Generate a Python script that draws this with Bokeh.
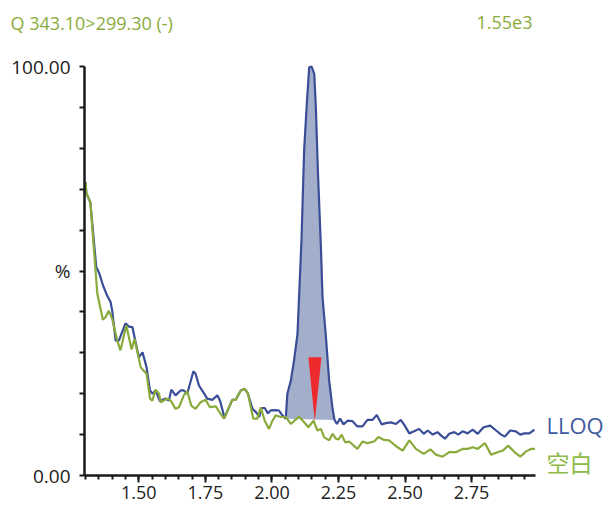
from bokeh.plotting import figure
from bokeh.models import FixedTicker, Label, Range1d
from bokeh.embed import file_html
from bokeh.resources import INLINE

# ---- data ----
lloq_t = [1.300, 1.303, 1.318, 1.340, 1.344, 1.352, 1.366, 1.381, 1.394, 1.400, 1.413, 1.425,
          1.450, 1.463, 1.476, 1.484, 1.500, 1.514, 1.529, 1.542, 1.551, 1.563, 1.579, 1.601,
          1.613, 1.622, 1.638, 1.657, 1.669, 1.682, 1.705, 1.713, 1.726, 1.742, 1.757, 1.776,
          1.795, 1.805, 1.818, 1.820, 1.839, 1.851, 1.864, 1.883, 1.898, 1.910, 1.927, 1.940,
          1.952, 1.962, 1.973, 1.985, 1.995, 2.014, 2.026, 2.039, 2.052,
          2.058, 2.071, 2.083, 2.096, 2.111, 2.121, 2.131, 2.140, 2.149, 2.159, 2.165, 2.173,
          2.184, 2.190, 2.202, 2.215, 2.227, 2.235,
          2.244, 2.256, 2.269, 2.284, 2.302, 2.321, 2.340, 2.359, 2.378, 2.394, 2.412, 2.428,
          2.447, 2.466, 2.484, 2.499, 2.516, 2.534, 2.553, 2.570, 2.585, 2.604, 2.622, 2.635,
          2.650, 2.666, 2.685, 2.700, 2.716, 2.735, 2.754, 2.773, 2.795, 2.820, 2.842, 2.861,
          2.875, 2.895, 2.916, 2.933, 2.948, 2.967, 2.986]
lloq_v = [71.7, 69.0, 66.8, 51.0, 50.5, 49.3, 46.4, 44.0, 42.4, 40.3, 33.0, 33.0,
          37.2, 36.4, 36.3, 33.8, 28.9, 30.1, 26.5, 20.8, 20.0, 20.8, 18.2, 18.8,
          18.3, 21.0, 19.6, 20.8, 20.8, 20.0, 25.5, 24.9, 22.0, 20.4, 18.8, 18.5,
          19.6, 18.3, 15.1, 13.9, 16.7, 18.5, 18.5, 20.8, 21.2, 20.0, 16.3, 15.5,
          14.3, 16.5, 16.5, 15.2, 15.9, 16.0, 15.9, 14.7, 13.9,
          20.0, 23.2, 28.1, 34.6, 57.5, 79.5, 90.9, 99.8, 100.0, 98.2, 90.0, 73.8,
          55.8, 43.6, 34.6, 23.2, 16.7, 13.6,
          12.6, 13.9, 12.5, 13.4, 13.3, 12.0, 12.0, 13.6, 13.6, 14.8, 12.5, 12.8,
          13.0, 12.6, 13.6, 12.2, 10.3, 10.8, 11.4, 10.2, 11.0, 10.0, 10.6, 9.8,
          9.0, 10.2, 10.6, 10.0, 10.8, 10.3, 11.2, 10.2, 11.8, 12.2, 11.0, 10.0,
          9.5, 11.0, 10.8, 10.0, 10.3, 10.3, 11.2]

blank_t = [1.300, 1.303, 1.318, 1.344, 1.365, 1.375, 1.387, 1.400, 1.419, 1.431, 1.453, 1.473,
           1.484, 1.507, 1.517, 1.529, 1.542, 1.551, 1.563, 1.576, 1.582, 1.607, 1.620, 1.638,
           1.651, 1.669, 1.682, 1.697, 1.713, 1.732, 1.751, 1.767, 1.789, 1.807, 1.820, 1.839,
           1.851, 1.864, 1.883, 1.898, 1.910, 1.930, 1.945, 1.958, 1.973, 1.989, 2.002, 2.014,
           2.033, 2.052, 2.071, 2.102, 2.121, 2.137, 2.156, 2.171, 2.184, 2.196, 2.215, 2.228,
           2.240, 2.250, 2.262, 2.275, 2.290, 2.321, 2.340, 2.359, 2.384, 2.400, 2.421, 2.440,
           2.472, 2.491, 2.516, 2.541, 2.570, 2.595, 2.616, 2.641, 2.666, 2.691, 2.716, 2.735,
           2.754, 2.773, 2.800, 2.823, 2.848, 2.867, 2.888, 2.910, 2.933, 2.955, 2.973, 2.988]
blank_v = [71.7, 69.0, 66.8, 44.5, 38.1, 38.7, 40.3, 38.3, 33.0, 30.6, 36.7, 30.8,
           33.4, 26.5, 25.7, 24.9, 18.8, 18.3, 21.0, 20.0, 17.9, 18.8, 18.3, 16.3,
           16.7, 19.6, 20.6, 17.1, 16.3, 17.9, 18.5, 16.7, 16.9, 15.1, 13.9, 16.7,
           18.5, 18.5, 20.8, 21.2, 20.0, 13.9, 13.9, 16.7, 13.4, 11.4, 13.4, 14.7,
           14.3, 14.3, 12.6, 14.4, 13.0, 11.8, 13.4, 11.0, 11.4, 9.4, 8.6, 10.2,
           9.0, 8.8, 10.0, 8.1, 8.3, 6.5, 8.3, 7.9, 8.3, 9.4, 8.7, 8.6,
           6.9, 6.1, 8.6, 6.5, 5.3, 6.4, 5.1, 4.6, 5.7, 5.7, 6.5, 6.5,
           6.9, 6.5, 7.9, 5.1, 5.7, 6.1, 7.3, 5.8, 4.6, 5.9, 6.5, 6.5]

peak_start, peak_end = 2.052, 2.235          # integration limits (LLOQ peak)
marker_t = [2.137, 2.186, 2.161]               # retention-time marker (red)
marker_v = [28.9, 28.9, 13.2]

x_major = [1.50, 1.75, 2.00, 2.25, 2.50, 2.75]
x_minor = [round(1.30 + 0.05 * i, 2) for i in range(34)]
y_ticks = [0, 10, 20, 30, 40, 50, 60, 70, 80, 90, 100]
y_labels = {0: "0.00", 50: "%", 100: "100.00"}

title_left = "Q 343.10>299.30 (-)"
title_right = "1.55e3"
series_names = ["LLOQ", "空白"]

BLUE = "#3a4e98"
GREEN = "#8aab3c"
FILL = "#a3aecb"
RED = "#ee2a2e"
FONT = "Open Sans"

# ---- layout: the frame covers the whole canvas, axes sit at fixed locations ----
W, H = 606, 510
X0, X1 = 1.296, 2.99          # visible time span of the axes
Y0, Y1 = 0.0, 100.0
L, R, T, B = 84, 71, 66, 35   # pixel margins around the axes box
kx = (X1 - X0) / (W - L - R)
ky = (Y1 - Y0) / (H - T - B)

p = figure(width=W, height=H, output_backend="svg", toolbar_location=None,
           x_range=Range1d(X0 - L * kx, X1 + R * kx),
           y_range=Range1d(Y0 - B * ky, Y1 + T * ky),
           min_border=0)
p.outline_line_color = None
p.xgrid.visible = False
p.ygrid.visible = False
p.background_fill_color = "white"
p.border_fill_color = "white"

# peak area
px = [t for t in lloq_t if peak_start <= t <= peak_end]
py = [v for t, v in zip(lloq_t, lloq_v) if peak_start <= t <= peak_end]
p.patch(px, py, fill_color=FILL, line_color=None)

p.line(lloq_t, lloq_v, line_color=BLUE, line_width=2.2)
p.line(blank_t, blank_v, line_color=GREEN, line_width=2.2)
p.patch(marker_t, marker_v, fill_color=RED, line_color=None)

# axes
xa = p.xaxis[0]
xa.fixed_location = Y0
xa.bounds = (X0, X1)
xa.ticker = FixedTicker(ticks=x_major, minor_ticks=x_minor)
xa.major_label_overrides = {t: f"{t:.2f}" for t in x_major}
xa.axis_line_width = 2.5
xa.axis_line_color = "#1a1a1a"
xa.major_tick_line_width = 2
xa.minor_tick_line_width = 2
xa.major_tick_line_color = "#1a1a1a"
xa.minor_tick_line_color = "#1a1a1a"
xa.major_tick_out = 7
xa.major_tick_in = 0
xa.minor_tick_out = 4
xa.minor_tick_in = 0
xa.major_label_standoff = 3
xa.major_label_text_font = FONT
xa.major_label_text_font_size = "18px"
xa.major_label_text_color = "#222222"

ya = p.yaxis[0]
ya.fixed_location = X0
ya.bounds = (Y0, Y1)
ya.ticker = FixedTicker(ticks=y_ticks, minor_ticks=[])
ya.major_label_overrides = {t: y_labels.get(t, "") for t in y_ticks}
ya.axis_line_width = 2.5
ya.axis_line_color = "#1a1a1a"
ya.major_tick_line_width = 2
ya.major_tick_line_color = "#1a1a1a"
ya.major_tick_out = 5
ya.major_tick_in = 0
ya.major_label_standoff = 9
ya.major_label_text_font = FONT
ya.major_label_text_font_size = "19px"
ya.major_label_text_color = "#222222"

# header texts (screen units, measured from the canvas bottom-left)
p.add_layout(Label(x=10, y=H - 22, x_units="screen", y_units="screen", text=title_left,
                   text_color=GREEN, text_font=FONT, text_font_size="18px",
                   text_baseline="middle", text_align="left"))
p.add_layout(Label(x=532, y=H - 22, x_units="screen", y_units="screen", text=title_right,
                   text_color=GREEN, text_font=FONT, text_font_size="18px",
                   text_baseline="middle", text_align="right"))
# series labels
p.add_layout(Label(x=546, y=H - 424, x_units="screen", y_units="screen", text=series_names[0],
                   text_color="#3d5aa0", text_font=FONT, text_font_size="22px",
                   text_baseline="middle", text_align="left"))
p.add_layout(Label(x=546, y=H - 461, x_units="screen", y_units="screen", text=series_names[1],
                   text_color="#8dba48", text_font="Noto Sans CJK SC", text_font_size="23px",
                   text_baseline="middle", text_align="left"))

open("out.html", "w").write(file_html(p, INLINE))
